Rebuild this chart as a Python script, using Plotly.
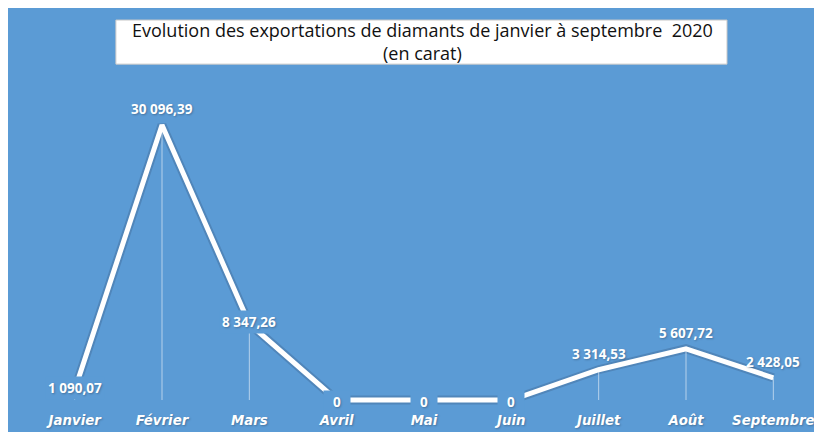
import plotly.graph_objects as go

# données
mois = ["Janvier", "Février", "Mars", "Avril", "Mai", "Juin", "Juillet", "Août", "Septembre"]
carats = [1090.07, 30096.39, 8347.26, 0, 0, 0, 3314.53, 5607.72, 2428.05]
# position des étiquettes : centrées sur le point ou au-dessus
pos_label = ["centre", "dessus", "centre", "centre", "centre", "centre", "dessus", "dessus", "dessus"]

BLEU = "#5B9BD5"


def fmt_fr(v):
    if v == 0:
        return "0"
    return f"{v:,.2f}".replace(",", " ").replace(".", ",")


fig = go.Figure()

# ombre légère sous la ligne
fig.add_trace(go.Scatter(
    x=mois, y=carats, mode="lines",
    line=dict(color="rgba(40,60,90,0.22)", width=9),
    hoverinfo="skip", showlegend=False,
))

# ligne principale + lignes de projection (drop lines)
fig.add_trace(go.Scatter(
    x=mois, y=carats, mode="lines",
    line=dict(color="white", width=5),
    error_y=dict(type="data", symmetric=False, array=[0] * len(carats),
                 arrayminus=carats, width=0, thickness=1,
                 color="rgba(255,255,255,0.55)"),
    showlegend=False,
))

# étiquettes de données
for m, v, p in zip(mois, carats, pos_label):
    fig.add_annotation(
        x=m, y=v, text=fmt_fr(v), showarrow=False,
        yshift=16 if p == "dessus" else (-2 if v == 0 else 2),
        bgcolor=BLEU if p == "centre" else "rgba(0,0,0,0)",
        borderpad=2,
        width=22 if v == 0 else None,
        font=dict(family="Open Sans", size=13.5, color="white", weight="bold",
                  shadow="1px 1px 2px rgba(0,0,0,0.25)"),
    )

# cadre du titre
fig.add_shape(type="rect", xref="paper", yref="paper",
              x0=0.108, x1=0.8855, y0=0.865, y1=0.975,
              fillcolor="white", line=dict(color="#c8c8c8", width=1), layer="below")
fig.add_annotation(
    xref="paper", yref="paper", x=0.498, y=0.922, yanchor="middle",
    text="Evolution des exportations de diamants de janvier à septembre  2020<br>(en carat)",
    showarrow=False, align="center",
    font=dict(family="Open Sans", size=18, color="#111111"),
)

fig.update_layout(
    width=811, height=424,
    margin=dict(l=23, r=2, t=2, b=21),
    paper_bgcolor=BLEU,
    plot_bgcolor="rgba(0,0,0,0)",
    xaxis=dict(range=[-0.5, 8.5], showgrid=False, zeroline=False, showline=False,
               ticks="", tickfont=dict(family="DejaVu Sans", size=13.3, color="white",
                                       weight="bold", style="italic",
                                       shadow="1px 1px 2px rgba(0,0,0,0.25)")),
    yaxis=dict(range=[-1204, 42682], showgrid=False, zeroline=False,
               showline=False, showticklabels=False),
    showlegend=False,
)

fig.write_html("out.html")
